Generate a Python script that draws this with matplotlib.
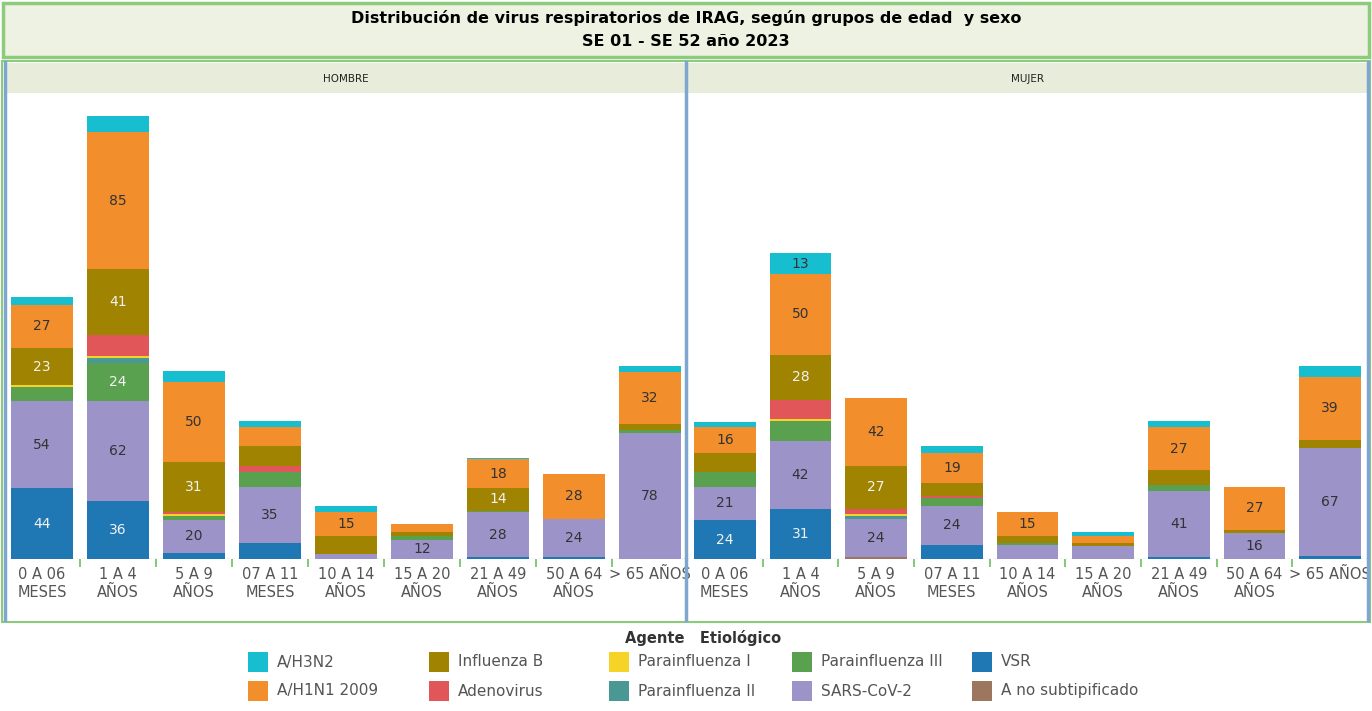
import matplotlib
matplotlib.use("Agg")
import matplotlib.pyplot as plt
from matplotlib.patches import Rectangle
from matplotlib.lines import Line2D
import numpy as np

# ---------------- data ----------------
categories = ["0 A 06\nMESES", "1 A 4\nAÑOS", "5 A 9\nAÑOS", "07 A 11\nMESES",
              "10 A 14\nAÑOS", "15 A 20\nAÑOS", "21 A 49\nAÑOS", "50 A 64\nAÑOS",
              "> 65 AÑOS"]

# stack order bottom -> top
agents = ["A no subtipificado", "VSR", "SARS-CoV-2", "Parainfluenza III",
          "Parainfluenza II", "Parainfluenza I", "Adenovirus", "Influenza B",
          "A/H1N1 2009", "A/H3N2"]

# HOMBRE
a_nosub_h = [0, 0, 0, 0, 0, 0, 0, 0, 0]
vsr_h     = [44, 36, 4, 10, 0, 0, 1, 1, 0]
sars_h    = [54, 62, 20, 35, 3, 12, 28, 24, 78]
p3_h      = [9, 24, 3, 9, 0, 2, 1, 0, 2]
p2_h      = [0, 3, 0, 0, 0, 0, 0, 0, 0]
p1_h      = [1, 1, 1, 0, 0, 0, 0, 0, 0]
adeno_h   = [0, 13, 1, 4, 0, 0, 0, 0, 0]
inflb_h   = [23, 41, 31, 12, 11, 3, 14, 0, 4]
h1n1_h    = [27, 85, 50, 12, 15, 5, 18, 28, 32]
h3n2_h    = [5, 10, 7, 4, 4, 0, 1, 0, 4]

# MUJER
a_nosub_m = [0, 0, 1, 0, 0, 0, 0, 0, 0]
vsr_m     = [24, 31, 0, 9, 0, 0, 1, 0, 2]
sars_m    = [21, 42, 24, 24, 9, 8, 41, 16, 67]
p3_m      = [9, 13, 0, 5, 1, 0, 4, 0, 0]
p2_m      = [0, 0, 2, 0, 0, 0, 0, 0, 0]
p1_m      = [0, 1, 1, 0, 0, 0, 0, 0, 0]
adeno_m   = [0, 12, 3, 1, 0, 0, 0, 0, 0]
inflb_m   = [12, 28, 27, 8, 4, 2, 9, 2, 5]
h1n1_m    = [16, 50, 42, 19, 15, 4, 27, 27, 39]
h3n2_m    = [3, 13, 0, 4, 0, 3, 4, 0, 7]

panels = ["HOMBRE", "MUJER"]
series_h = [a_nosub_h, vsr_h, sars_h, p3_h, p2_h, p1_h, adeno_h, inflb_h, h1n1_h, h3n2_h]
series_m = [a_nosub_m, vsr_m, sars_m, p3_m, p2_m, p1_m, adeno_m, inflb_m, h1n1_m, h3n2_m]

# labels shown below the general threshold (panel, agent, category index)
extra_labels = [("HOMBRE", "SARS-CoV-2", 5), ("MUJER", "A/H3N2", 1)]
label_threshold = 14

colors = {
    "A/H3N2": "#17BECF",
    "A/H1N1 2009": "#F28E2B",
    "Influenza B": "#A08300",
    "Adenovirus": "#E15759",
    "Parainfluenza I": "#F5D327",
    "Parainfluenza II": "#499894",
    "Parainfluenza III": "#59A14F",
    "SARS-CoV-2": "#9C94C9",
    "VSR": "#1F77B4",
    "A no subtipificado": "#9D7660",
}
light_text = {"VSR", "Influenza B", "Parainfluenza III", "Parainfluenza II"}

legend_order = [["A/H3N2", "A/H1N1 2009"], ["Influenza B", "Adenovirus"],
                ["Parainfluenza I", "Parainfluenza II"],
                ["Parainfluenza III", "SARS-CoV-2"], ["VSR", "A no subtipificado"]]

# ---------------- figure ----------------
W, H = 1372, 711
fig = plt.figure(figsize=(W / 100, H / 100), dpi=100)
fig.patch.set_facecolor("white")

def fx(x):
    return x / W

def fy(y):
    return 1 - y / H

green = "#8DCB7C"
blue_line = "#7FA6CF"

# title box
fig.patches.append(Rectangle((fx(3), fy(57)), fx(1366), 54 / H, transform=fig.transFigure,
                             facecolor="#EEF2E3", edgecolor=green, linewidth=2.5, zorder=0))
title_font = ["Liberation Sans Narrow", "DejaVu Sans"]
fig.text(fx(686), fy(18), "Distribución de virus respiratorios de IRAG, según grupos de edad  y sexo",
         ha="center", va="center", fontsize=11.5, fontweight="bold", family=title_font)
fig.text(fx(686), fy(42), "SE 01 - SE 52 año 2023", ha="center", va="center",
         fontsize=11.5, fontweight="bold", family=title_font)

# outer chart frame (green)
fig.patches.append(Rectangle((fx(2), fy(622)), fx(1368), 561 / H, transform=fig.transFigure,
                             facecolor="none", edgecolor=green, linewidth=1.5, zorder=0))

# panel headers
panel_x = [(5, 686), (686, 1368)]
for (x0, x1), name in zip(panel_x, panels):
    fig.patches.append(Rectangle((fx(x0), fy(93)), fx(x1 - x0), 30 / H, transform=fig.transFigure,
                                 facecolor="#E8ECDA", edgecolor="none", zorder=0))
    fig.text(fx((x0 + x1) / 2), fy(79), name, ha="center", va="center", fontsize=7.5,
             color="#222222")

# axes
ax_px = [(4, 688), (687, 1368)]
x = np.arange(len(categories))
bar_w = 0.816
for (x0, x1), name, series in zip(ax_px, panels, [series_h, series_m]):
    ax = fig.add_axes([fx(x0), fy(559), fx(x1 - x0), 466 / H])
    ax.set_xlim(-0.5, len(categories) - 0.5)
    ax.set_ylim(0, 289.5)
    bottom = np.zeros(len(categories))
    for agent, vals in zip(agents, series):
        vals = np.array(vals, dtype=float)
        ax.bar(x, vals, bar_w, bottom=bottom, color=colors[agent], linewidth=0, zorder=2)
        for i, v in enumerate(vals):
            show = v >= label_threshold or (name, agent, i) in extra_labels
            if v > 0 and show:
                ax.text(x[i], bottom[i] + v / 2, f"{int(v)}", ha="center", va="center",
                        fontsize=10,
                        color="#F2F2F2" if agent in light_text else "#333333", zorder=3)
        bottom += vals
    for s in ax.spines.values():
        s.set_visible(False)
    ax.set_yticks([])
    ax.set_xticks(x)
    ax.set_xticklabels(categories, fontsize=10.5, color="#555555", linespacing=1.25)
    ax.tick_params(axis="x", which="major", length=0, pad=6)
    ax.set_xticks(np.arange(0.5, len(categories) - 0.5, 1), minor=True)
    ax.tick_params(axis="x", which="minor", length=6, color="#6DBF62", width=1.2)
    ax.axhline(0, color="#BBBBBB", lw=1, ls=(0, (2, 2)), zorder=1)
    ax.patch.set_alpha(0)

# blue panel separators
for xv in [5, 686, 1368]:
    fig.add_artist(Line2D([fx(xv), fx(xv)], [fy(620), fy(62)], transform=fig.transFigure,
                          color=blue_line, lw=2.5))

# legend
fig.text(fx(703), fy(638), "Agente   Etiológico", ha="center", va="center", fontsize=10.5,
         fontweight="bold", color="#333333")
col_x = [248, 429, 609, 792, 972]
row_y = [662, 691]
sq = 20
for cx, pair in zip(col_x, legend_order):
    for ry, agent in zip(row_y, pair):
        fig.patches.append(Rectangle((fx(cx), fy(ry + sq / 2)), fx(sq), sq / H,
                                     transform=fig.transFigure, facecolor=colors[agent],
                                     edgecolor="none"))
        fig.text(fx(cx + 29), fy(ry), agent, ha="left", va="center", fontsize=11,
                 color="#555555")

fig.savefig("out.png", dpi=100)
